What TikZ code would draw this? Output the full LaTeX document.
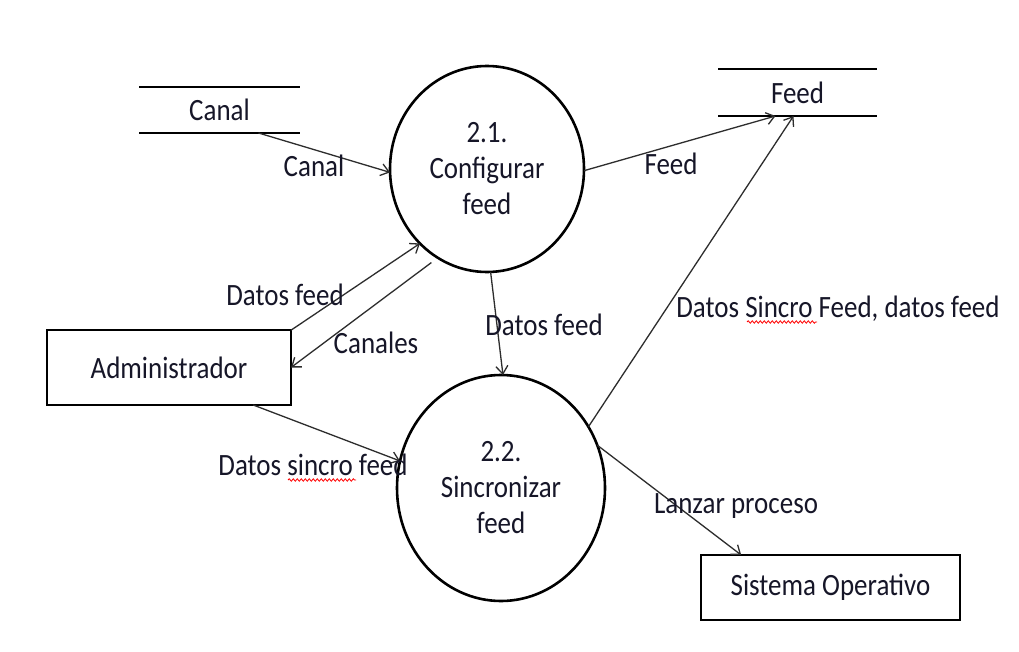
\documentclass[tikz,border=0pt]{standalone}
\usepackage{fontspec}
\setmainfont[FakeStretch=0.87]{Carlito}
\usetikzlibrary{shapes.geometric,arrows.meta,calc,decorations.pathmorphing}
\definecolor{ink}{RGB}{22,22,40}
\definecolor{flowgray}{RGB}{45,45,45}
\tikzset{
  txt/.style={font=\fontsize{31}{36}\selectfont, text=ink},
  proc/.style={ellipse, draw=black, line width=2.6pt, inner sep=0pt, outer sep=0pt,
    align=center, txt},
  entity/.style={rectangle, draw=black, line width=2.8pt, inner sep=0pt, outer sep=0pt, txt},
  store/.style={rectangle, inner sep=0pt, outer sep=0pt, minimum width=161pt,
    minimum height=46pt, txt},
  storeline/.style={draw=black, line width=2pt},
  flow/.style={draw=flowgray, line width=1.3pt,
    -{Straight Barb[length=8pt,width=12pt,line width=1.3pt]}},
  flowlabel/.style={anchor=base, inner sep=0pt, txt},
  spellmark/.style={draw=red, line width=0.8pt, decorate,
    decoration={snake, amplitude=1.2pt, segment length=4pt}}
}
\begin{document}
\begin{tikzpicture}[x=1pt,y=-1pt]
\useasboundingbox (0,0) rectangle (1019,652);
\fill[white] (0,0) rectangle (1019,652);

% processes
\node[proc, minimum width=194pt, minimum height=206pt] (c1) at (487,169)
  {2.1.\\Configurar\\feed};
\node[proc, minimum width=208pt, minimum height=226pt] (c2) at (501,488)
  {2.2.\\Sincronizar\\feed};

% external entities
\node[entity, minimum width=244pt, minimum height=75pt] (adm) at (169,367.5) {Administrador};
\node[entity, minimum width=259pt, minimum height=65pt] (so) at (830.5,587.5) {Sistema Operativo};

% data stores
\node[store] (canal) at (219.5,110) {Canal};
\draw[storeline] (canal.north west) -- (canal.north east);
\draw[storeline] (canal.south west) -- (canal.south east);
\node[store, minimum width=159pt, minimum height=47pt] (feed) at (797.5,92.5) {Feed};
\draw[storeline] (feed.north west) -- (feed.north east);
\draw[storeline] (feed.south west) -- (feed.south east);

% data flows
\draw[flow] ($(canal.south)+(39,0)$) -- (c1.182);
\draw[flow] (c1.-1) -- ($(feed.south)+(-22,0)$);
\draw[flow] (adm.17.5) -- (c1.228);
\draw[flow, shorten <=8pt] (c1.241) -- (adm.east);
\draw[flow] (c1.-88) -- (c2.89);
\draw[flow] (adm.-24.8) -- (c2.165);
\draw[flow] (c2.35) -- ($(feed.south)+(-4,0)$);
\draw[flow] (c2.24) -- (so.160.4);

% flow labels
\node[flowlabel] (lcanal) at (314,177) {Canal};
\node[flowlabel] (lfeed) at (671,175) {Feed};
\node[flowlabel] (ldatos1) at (285,305) {Datos feed};
\node[flowlabel] (lcanales) at (376,353) {Canales};
\node[flowlabel] (ldatos2) at (544,335) {Datos feed};
\node[flowlabel] (lsincro) at (313,475) {Datos sincro feed};
\node[flowlabel] (lsincrofeed) at (838,317) {Datos Sincro Feed, datos feed};
\node[flowlabel] (llanzar) at (736,513) {Lanzar proceso};

% spelling marks under the flagged words
\draw[spellmark] (288,480) -- (356,480);
\draw[spellmark] (747,322) -- (817,322);
\end{tikzpicture}
\end{document}
